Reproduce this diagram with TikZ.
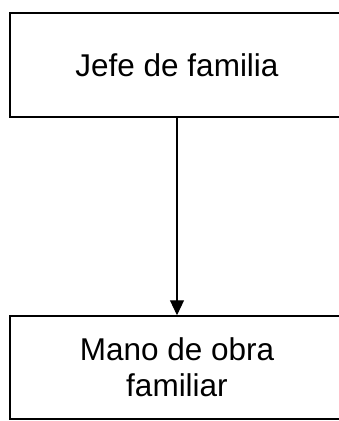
\documentclass[tikz,border=0pt]{standalone}
\usepackage{fontspec}
\setmainfont{Liberation Sans}
\usetikzlibrary{arrows.meta,positioning}

\begin{document}
\begin{tikzpicture}[x=1pt, y=-1pt, ->, >={Triangle[width=14pt,length=15pt]},
  box/.style={draw, line width=1.5pt, rectangle, minimum width=334pt, minimum height=104pt,
    inner sep=0pt, align=center, font=\fontsize{31.5}{36}\selectfont}]
\path[use as bounding box] (0,0) rectangle (339,421);
\node[box] (jefe) at (177,65) {Jefe de familia};
\node[box, minimum height=103pt] (mano) at (177,367.5) {Mano de obra\\familiar};
\draw[line width=1.1pt] (jefe.south) -- (mano.north);
\end{tikzpicture}
\end{document}
